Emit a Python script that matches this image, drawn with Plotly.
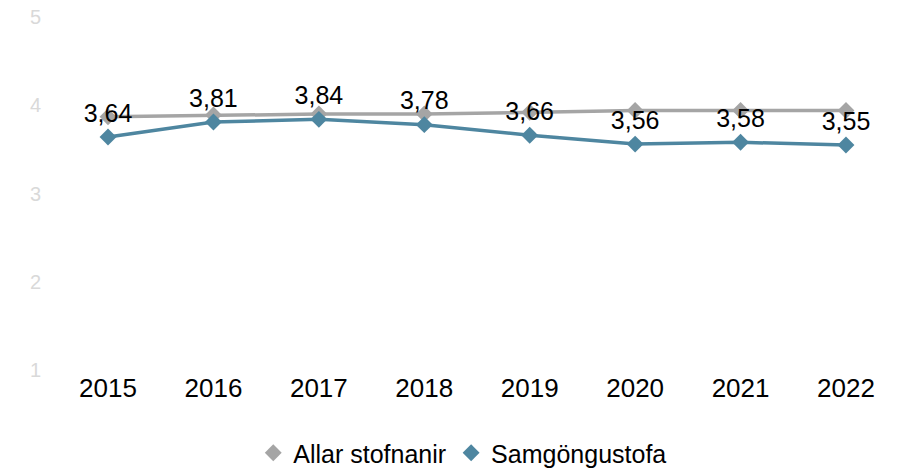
import plotly.graph_objects as go

years = ["2015", "2016", "2017", "2018", "2019", "2020", "2021", "2022"]
allar = [3.87, 3.89, 3.90, 3.90, 3.92, 3.94, 3.94, 3.94]
samgongu = [3.64, 3.81, 3.84, 3.78, 3.66, 3.56, 3.58, 3.55]
labels = [f"{v:.2f}".replace(".", ",") for v in samgongu]

grey = "#a5a5a5"
blue = "#4e86a0"

fig = go.Figure()
fig.add_trace(go.Scatter(
    x=years, y=allar, mode="lines+markers", showlegend=False,
    line=dict(color=grey, width=3.5),
    marker=dict(symbol="diamond", size=13, color=grey),
))
fig.add_trace(go.Scatter(
    x=years, y=samgongu, mode="lines+markers+text", showlegend=False,
    text=labels, textposition="top center",
    textfont=dict(size=25, color="#000000"),
    line=dict(color=blue, width=3.5),
    marker=dict(symbol="diamond", size=13, color=blue),
))
# legend entries: marker only
for name, col in [("Allar stofnanir", grey), ("Samgöngustofa", blue)]:
    fig.add_trace(go.Scatter(
        x=[None], y=[None], mode="markers", name=name,
        marker=dict(symbol="diamond", size=13, color=col),
    ))

fig.update_layout(
    template="none",
    width=902, height=468,
    margin=dict(l=58, r=6, t=17, b=98),
    plot_bgcolor="white", paper_bgcolor="white",
    font=dict(family="Liberation Sans, Arial, sans-serif", color="#000000"),
    showlegend=True,
    legend=dict(orientation="h", x=0.483, xanchor="center", yref="container",
                y=0.032, yanchor="middle", font=dict(size=25),
                itemwidth=30, tracegroupgap=0),
    xaxis=dict(showgrid=False, showline=False, zeroline=False, automargin=False,
               tickfont=dict(size=26), ticks=""),
    yaxis=dict(range=[1, 5], dtick=1, showgrid=False, zeroline=False, automargin=False,
               showline=False, tickfont=dict(size=20, color="#d9d9d9"),
               ticks="", ticklabelstandoff=16),
)

# drop the default 8px body margin so the figure fills the window
fig.write_html("out.html", config={"displayModeBar": False},
               post_script="document.body.style.margin='0';")
